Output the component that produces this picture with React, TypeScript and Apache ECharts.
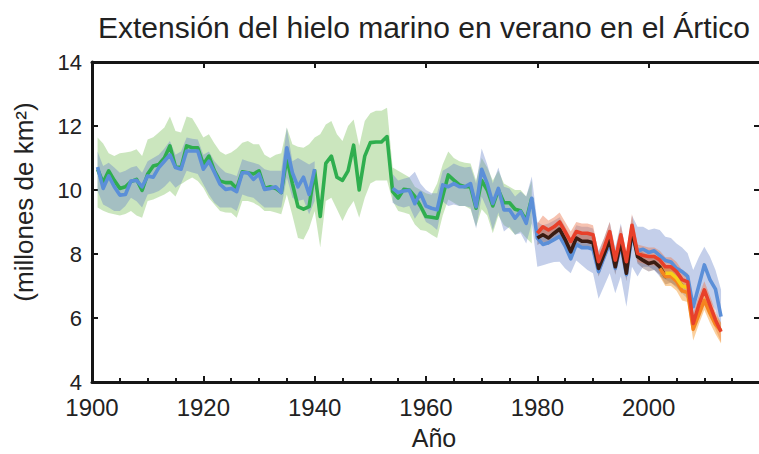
import React, { useEffect, useRef } from "react";
import * as echarts from "echarts";

// ---------- DATA ----------
const FONT = "'Liberation Sans', Arial, Helvetica, sans-serif";
const TITLE = "Extensión del hielo marino en verano en el Ártico";
const Y_NAME = "(millones de km²)";
const X_NAME = "Año";
const X_MIN = 1900;
const X_MAX = 2020;
const X_STEP = 20;
const Y_MIN = 4;
const Y_MAX = 14;
const Y_STEP = 2;

const range = (a: number, b: number) => {
  const out: number[] = [];
  for (let y = a; y <= b; y++) out.push(y);
  return out;
};

// Green record 1901–1979
const greenYears = range(1901, 1979);
const greenLine = [
  10.65, 10.23, 10.6, 10.3, 10.05, 10.1, 10.26, 10.33, 9.99, 10.5,
  10.75, 10.8, 11.0, 11.38, 10.72, 10.7, 11.38, 11.32, 11.32, 10.8,
  11.06, 10.6, 10.28, 10.23, 10.23, 10.05, 10.57, 10.54, 10.5, 10.6,
  10.05, 10.1, 10.05, 9.92, 11.0, 10.2, 9.48, 9.4, 9.48, 10.6,
  9.17, 10.83, 11.06, 10.4, 10.3, 10.6, 11.4, 10.0, 11.06, 11.48,
  11.5, 11.5, 11.67, 9.95, 9.75, 10.02, 10.0, 9.8, 9.5, 9.17,
  9.15, 9.12, 9.8, 10.47, 10.31, 10.16, 10.1, 10.1, 9.43, 10.3,
  10.0, 9.5, 10.0, 9.6, 9.6, 9.4, 9.35, 9.05, 9.75,
];
const greenHi = [
  11.64, 11.45, 11.15, 11.06, 11.15, 11.17, 11.2, 11.27, 11.06, 11.58,
  11.65, 11.8, 11.95, 12.3, 11.84, 11.8, 12.3, 12.24, 11.95, 11.64,
  11.74, 11.45, 11.2, 11.1, 11.17, 11.3, 11.48, 11.53, 11.43, 11.43,
  11.1, 11.0, 11.1, 11.15, 11.95, 11.43, 11.35, 11.32, 11.43, 11.64,
  11.74, 12.05, 12.16, 11.74, 11.53, 12.0, 12.2, 11.38, 12.16, 12.4,
  12.48, 12.48, 12.57, 10.7, 10.6, 10.5, 10.4, 10.1, 10.0, 9.9,
  9.85, 10.2, 10.8, 11.2, 11.0, 10.9, 10.85, 10.83, 10.3, 11.0,
  10.7, 10.3, 10.6, 10.2, 10.1, 10.0, 10.0, 9.8, 10.3,
];
const greenLo = [
  9.45, 9.35, 9.28, 9.24, 9.2, 9.25, 9.34, 9.2, 9.13, 9.66,
  9.7, 9.78, 9.86, 9.97, 9.8, 10.18, 10.3, 10.39, 10.28, 10.07,
  9.75, 9.55, 9.34, 9.3, 9.29, 9.13, 9.66, 9.66, 9.6, 9.5,
  9.34, 9.34, 9.3, 9.24, 9.86, 9.2, 8.5, 8.45, 8.8, 9.34,
  8.2, 9.66, 9.76, 9.4, 9.03, 9.4, 9.66, 9.13, 9.76, 10.2,
  10.3, 10.3, 10.3, 9.66, 9.34, 9.3, 9.24, 8.92, 8.75, 8.72,
  8.6, 8.5, 9.2, 9.7, 9.6, 9.5, 9.5, 9.4, 8.85, 9.4,
  9.2, 8.65, 9.2, 8.9, 8.8, 8.6, 8.7, 8.5, 8.33,
];

// Blue record, first part 1901–1940
const blueYearsA = range(1901, 1940);
const blueLineA = [
  10.72, 10.05, 10.44, 10.1, 9.84, 9.86, 10.28, 10.3, 10.1, 10.44,
  10.4, 10.7, 10.9, 11.1, 10.7, 10.65, 11.22, 11.22, 11.22, 10.65,
  10.9, 10.55, 10.18, 10.02, 10.05, 9.95, 10.54, 10.54, 10.33, 10.5,
  10.02, 10.05, 10.1, 9.92, 11.32, 10.54, 10.1, 10.4, 9.86, 10.65,
];
const blueHiA = [
  11.2, 10.75, 10.85, 10.7, 10.54, 10.6, 10.7, 10.75, 10.54, 10.9,
  11.0, 11.1, 11.3, 11.53, 11.1, 11.2, 11.64, 11.6, 11.58, 11.1,
  11.2, 10.9, 10.7, 10.55, 10.5, 10.44, 10.96, 10.9, 10.85, 10.8,
  10.65, 10.6, 10.6, 10.6, 11.95, 10.9, 11.0, 10.9, 10.8, 10.9,
];
const blueLoA = [
  9.97, 9.55, 9.45, 9.34, 9.34, 9.5, 9.76, 9.65, 9.45, 9.86,
  9.9, 9.97, 10.1, 10.28, 10.07, 10.2, 10.6, 10.55, 10.5, 10.18,
  9.86, 9.6, 9.45, 9.45, 9.45, 9.34, 9.86, 9.8, 9.76, 9.6,
  9.45, 9.45, 9.45, 9.45, 10.39, 9.76, 9.66, 9.7, 9.24, 9.66,
];

// Blue record, second part 1954–2013
const blueYearsB = range(1954, 2013);
const blueLineB = [
  10.05, 9.92, 9.97, 9.99, 9.57, 9.9, 9.5, 9.43, 9.38, 10.16,
  10.1, 10.2, 10.1, 10.1, 10.2, 9.48, 10.65, 10.2, 9.58, 10.05,
  9.38, 9.38, 9.12, 9.33, 8.96, 9.74, 8.5, 8.3, 8.35, 8.45,
  8.55, 8.25, 7.85, 8.3, 8.2, 8.2, 8.15, 7.45, 7.9, 8.35,
  7.55, 8.3, 7.35, 8.6, 8.1, 8.15, 8.05, 8.1, 7.95, 7.8,
  7.75, 7.55, 7.45, 7.3, 6.35, 7.0, 7.66, 7.2, 6.9, 6.04,
];
const blueHiB = [
  10.5, 10.3, 10.35, 10.4, 10.57, 10.2, 10.0, 9.9, 9.9, 10.6,
  10.7, 10.83, 10.75, 10.7, 10.73, 10.2, 11.3, 10.8, 10.2, 10.7,
  10.1, 10.05, 9.8, 9.95, 9.8, 10.42, 9.0, 8.9, 8.95, 9.05,
  9.15, 8.85, 8.5, 8.9, 8.85, 8.85, 8.8, 8.1, 8.5, 9.0,
  8.2, 8.95, 8.0, 9.2, 8.85, 8.85, 8.75, 8.8, 8.75, 8.54,
  8.5, 8.33, 8.2, 8.02, 7.5, 7.9, 8.23, 7.92, 7.5, 6.88,
];
const blueLoB = [
  9.6, 9.5, 9.45, 9.5, 9.1, 9.37, 9.0, 8.9, 8.75, 9.64,
  9.5, 9.55, 9.5, 9.5, 9.45, 8.8, 9.79, 9.4, 8.75, 9.3,
  8.7, 8.85, 8.6, 8.65, 8.33, 8.96, 7.6, 7.65, 7.7, 7.75,
  7.76, 7.55, 7.4, 7.8, 7.65, 7.5, 7.4, 6.6, 7.0, 7.4,
  6.77, 7.3, 6.35, 7.6, 7.3, 7.6, 7.6, 7.5, 7.3, 7.2,
  7.1, 7.0, 6.77, 6.6, 5.85, 6.5, 6.9, 6.5, 6.25, 5.6,
];

// Dark (black) record 1980–2006
const blackYears = range(1980, 2006);
const blackLine = [
  8.5, 8.6, 8.5, 8.65, 8.78, 8.45, 8.07, 8.5, 8.4, 8.4,
  8.35, 7.55, 8.0, 8.45, 7.6, 8.4, 7.4, 8.75, 7.92, 7.8,
  7.7, 7.75, 7.6, 7.3, 7.35, 7.2, 7.0,
];
const blackHi = [
  8.72, 8.82, 8.72, 8.87, 9.0, 8.67, 8.3, 8.72, 8.62, 8.62,
  8.57, 7.8, 8.22, 8.67, 7.85, 8.62, 7.65, 8.97, 8.15, 8.05,
  7.95, 7.98, 7.85, 7.55, 7.6, 7.45, 7.25,
];
const blackLo = [
  8.28, 8.38, 8.28, 8.43, 8.55, 8.22, 7.85, 8.28, 8.18, 8.18,
  8.12, 7.3, 7.78, 8.22, 7.35, 8.17, 7.15, 8.52, 7.7, 7.55,
  7.45, 7.5, 7.35, 7.05, 7.1, 6.95, 6.75,
];

// Red record 1980–2013
const redYears = range(1980, 2013);
const redLine = [
  8.65, 8.85, 8.75, 8.85, 9.0, 8.7, 8.39, 8.7, 8.65, 8.65,
  8.6, 7.76, 8.2, 8.7, 7.81, 8.6, 7.76, 8.9, 8.02, 7.95,
  7.92, 7.92, 7.81, 7.6, 7.6, 7.45, 7.2, 7.13, 5.83, 6.4,
  6.88, 6.4, 5.94, 5.57,
];
const redHi = [
  8.95, 9.2, 9.05, 9.15, 9.3, 9.0, 8.7, 9.0, 8.95, 8.95,
  8.9, 8.05, 8.5, 9.0, 8.1, 8.9, 8.05, 9.25, 8.3, 8.25,
  8.2, 8.2, 8.1, 7.9, 7.9, 7.75, 7.5, 7.4, 6.15, 6.7,
  7.15, 6.7, 6.2, 5.85,
];
const redLo = [
  8.4, 8.6, 8.5, 8.6, 8.75, 8.45, 8.15, 8.45, 8.4, 8.4,
  8.35, 7.5, 7.95, 8.45, 7.55, 8.35, 7.5, 8.65, 7.75, 7.7,
  7.65, 7.65, 7.55, 7.35, 7.35, 7.2, 6.95, 6.85, 5.55, 6.1,
  6.6, 6.1, 5.65, 5.25,
];

// Orange record 2002–2013
const orangeYears = range(2002, 2013);
const orangeLine = [7.55, 7.3, 7.3, 7.15, 6.85, 6.8, 5.65, 6.1, 6.55, 6.15, 5.8, 5.6];
const orangeHi = [7.85, 7.65, 7.65, 7.5, 7.2, 7.15, 5.95, 6.4, 6.85, 6.45, 6.1, 5.85];
const orangeLo = [7.3, 7.0, 7.0, 6.85, 6.55, 6.5, 5.3, 5.8, 6.25, 5.85, 5.5, 5.2];

// Yellow record 2003–2007
const yellowYears = range(2003, 2007);
const yellowLine = [7.4, 7.4, 7.25, 7.0, 6.95];

// ---------- helpers ----------
const pairs = (xs: number[], ys: number[]) => xs.map((x, i) => [x, ys[i]]);

function band(years: number[], lo: number[], hi: number[], fill: string) {
  const data = years.map((y, i) => [y, lo[i], hi[i]]);
  return {
    type: "custom",
    silent: true,
    clip: true,
    encode: { x: 0, y: [1, 2] },
    data,
    renderItem: (params: any, api: any) => {
      if (params.dataIndex !== 0) return null;
      const pts: number[][] = [];
      for (let i = 0; i < data.length; i++) pts.push(api.coord([data[i][0], data[i][2]]));
      for (let i = data.length - 1; i >= 0; i--) pts.push(api.coord([data[i][0], data[i][1]]));
      return { type: "polygon", shape: { points: pts }, style: { fill, stroke: null } };
    },
  };
}

function line(years: number[], vals: number[], color: string, width = 3.6) {
  return {
    type: "line",
    data: pairs(years, vals),
    showSymbol: false,
    symbol: "none",
    silent: true,
    lineStyle: { color, width, join: "round" },
    itemStyle: { color },
  };
}

const AXIS_COLOR = "#161616";

export default function App() {
  const ref = useRef<HTMLDivElement>(null);
  useEffect(() => {
    if (!ref.current) return;
    const chart = echarts.init(ref.current, undefined, { renderer: "svg" });
    chart.setOption({
      animation: false,
      backgroundColor: "#ffffff",
      title: {
        text: TITLE,
        left: 93,
        top: 7,
        textStyle: { fontSize: 30, fontWeight: "normal", color: "#222", fontFamily: FONT },
      },
      grid: {
        left: 92,
        top: 62,
        width: 668,
        height: 320,
        containLabel: false,
        outerBoundsMode: "none",
      },
      xAxis: [
        {
          type: "value",
          min: X_MIN,
          max: X_MAX,
          interval: X_STEP,
          position: "bottom",
          axisLine: { show: true, lineStyle: { color: AXIS_COLOR, width: 3 } },
          axisTick: { show: true, inside: true, length: 6, lineStyle: { color: AXIS_COLOR, width: 2 } },
          minorTick: { show: true, splitNumber: 4, length: 4, lineStyle: { color: AXIS_COLOR, width: 2 } },
          splitLine: { show: false },
          axisLabel: {
            fontSize: 24,
            color: "#222",
            fontFamily: FONT,
            margin: 13,
            showMaxLabel: false,
            formatter: (v: number) => (v >= X_MAX ? "" : String(v)),
          },
        },
        {
          type: "value",
          min: X_MIN,
          max: X_MAX,
          interval: X_STEP,
          position: "top",
          axisLine: { show: true, lineStyle: { color: AXIS_COLOR, width: 3 } },
          axisTick: { show: true, inside: true, length: 6, lineStyle: { color: AXIS_COLOR, width: 2 } },
          splitLine: { show: false },
          axisLabel: { show: false },
        },
      ],
      yAxis: [
        {
          type: "value",
          min: Y_MIN,
          max: Y_MAX,
          interval: Y_STEP,
          position: "left",
          axisLine: { show: true, lineStyle: { color: AXIS_COLOR, width: 3 } },
          axisTick: { show: true, inside: true, length: 6, lineStyle: { color: AXIS_COLOR, width: 2 } },
          splitLine: { show: false },
          axisLabel: { fontSize: 22, color: "#222", fontFamily: FONT, margin: 10 },
        },
        {
          type: "value",
          min: Y_MIN,
          max: Y_MAX,
          interval: Y_STEP,
          position: "right",
          axisLine: { show: true, lineStyle: { color: AXIS_COLOR, width: 3 } },
          axisTick: { show: true, inside: true, length: 6, lineStyle: { color: AXIS_COLOR, width: 2 } },
          splitLine: { show: false },
          axisLabel: { show: false },
        },
      ],
      graphic: [
        {
          type: "text",
          x: 24,
          y: 202,
          rotation: Math.PI / 2,
          style: {
            text: Y_NAME,
            fontSize: 26,
            fontFamily: FONT,
            fill: "#222",
            textAlign: "center",
            textVerticalAlign: "middle",
          },
        },
        {
          type: "text",
          x: 434,
          y: 438,
          style: {
            text: X_NAME,
            fontSize: 25,
            fontFamily: FONT,
            fill: "#222",
            textAlign: "center",
            textVerticalAlign: "middle",
          },
        },
      ],
      series: [
        band(greenYears, greenLo, greenHi, "rgba(140,200,110,0.45)"),
        band(blueYearsA, blueLoA, blueHiA, "rgba(100,128,200,0.38)"),
        band(blueYearsB, blueLoB, blueHiB, "rgba(100,128,200,0.38)"),
        band(blackYears, blackLo, blackHi, "rgba(90,60,70,0.35)"),
        band(redYears, redLo, redHi, "rgba(235,120,80,0.45)"),
        band(orangeYears, orangeLo, orangeHi, "rgba(245,150,40,0.45)"),
        line(greenYears, greenLine, "#2fae4e"),
        line(blueYearsA, blueLineA, "#5b8fd8"),
        line(blueYearsB, blueLineB, "#5b8fd8"),
        line(blackYears, blackLine, "#3a1c12"),
        line(orangeYears, orangeLine, "#f5841f"),
        line(yellowYears, yellowLine, "#f6cf1a"),
        line(redYears, redLine, "#e8402a"),
      ],
    });
    return () => chart.dispose();
  }, []);
  return (
    <div
      ref={ref}
      style={{ position: "absolute", left: 0, top: 0, width: 759, height: 454 }}
    />
  );
}
